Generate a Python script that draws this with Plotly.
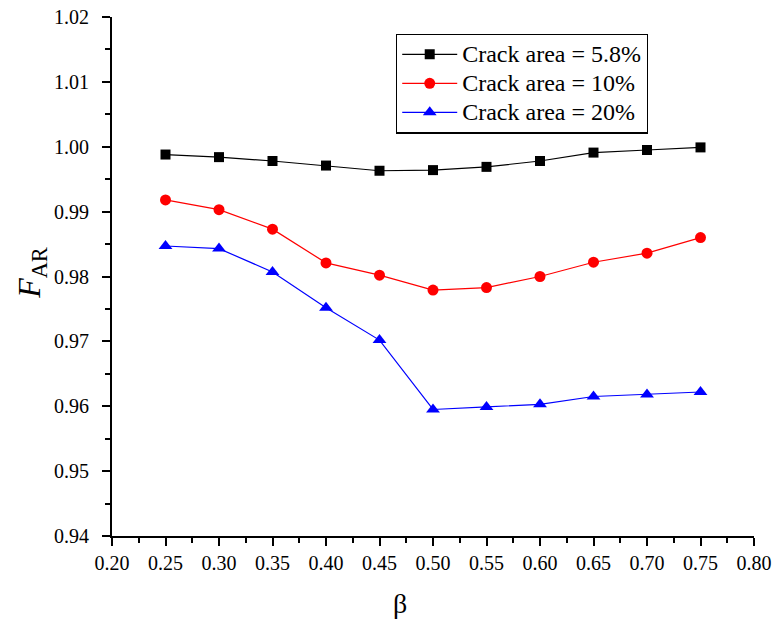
import plotly.graph_objects as go

beta = [0.25, 0.30, 0.35, 0.40, 0.45, 0.50, 0.55, 0.60, 0.65, 0.70, 0.75]
far_5_8 = [0.9988, 0.9984, 0.9978, 0.9971, 0.9963, 0.9964, 0.9969, 0.9978, 0.9991, 0.9995, 0.9999]
far_10 = [0.9918, 0.9903, 0.9873, 0.9821, 0.9802, 0.9779, 0.9783, 0.9800, 0.9822, 0.9836, 0.9860]
far_20 = [0.9847, 0.9843, 0.9807, 0.9752, 0.9702, 0.9595, 0.9599, 0.9603, 0.9615, 0.9618, 0.9622]

x_ticks = [0.20, 0.25, 0.30, 0.35, 0.40, 0.45, 0.50, 0.55, 0.60, 0.65, 0.70, 0.75, 0.80]
y_ticks = [0.94, 0.95, 0.96, 0.97, 0.98, 0.99, 1.00, 1.01, 1.02]

series = [
    ("Crack area = 5.8%", far_5_8, "black", "square", 10),
    ("Crack area = 10%", far_10, "red", "circle", 11),
    ("Crack area = 20%", far_20, "blue", "triangle-up", 12),
]

FONT = "Liberation Serif"

fig = go.Figure()
for name, vals, color, symbol, size in series:
    fig.add_trace(go.Scatter(
        x=beta, y=vals, name=f'<span style="font-size:24px">{name}</span>',
        mode="lines+markers",
        line=dict(color=color, width=1.2),
        marker=dict(symbol=symbol, size=size, color=color),
    ))

axis_common = dict(
    showline=True, linecolor="black", linewidth=2,
    ticks="outside", ticklen=8, tickwidth=1.5, tickcolor="black",
    showgrid=False, zeroline=False, mirror=False, automargin=False,
    tickfont=dict(family=FONT, size=20, color="black"),
    tickmode="array", ticklabeloverflow="allow",
)

fig.update_layout(
    width=774, height=619,
    margin=dict(l=112, r=20, t=17, b=83),
    paper_bgcolor="white", plot_bgcolor="white",
    font=dict(family=FONT, color="black"),
    showlegend=True,
    legend=dict(
        x=0.4424, y=0.968, xanchor="left", yanchor="top",
        bordercolor="black", borderwidth=1.2, bgcolor="white",
        font=dict(family=FONT, size=20, color="black"),
        tracegroupgap=0, itemsizing="trace", itemwidth=55,
    ),
    annotations=[
        dict(text="<i>F</i><sub>AR</sub>", textangle=-90, showarrow=False,
             xref="paper", yref="paper", x=-0.1246, y=0.507,
             xanchor="center", yanchor="middle",
             font=dict(family=FONT, size=32, color="black")),
        dict(text="β", showarrow=False,
             xref="paper", yref="paper", x=0.4486, y=-0.131,
             xanchor="center", yanchor="middle",
             font=dict(family=FONT, size=28, color="black")),
    ],
)

fig.update_xaxes(
    range=[0.20, 0.80], tickvals=x_ticks, ticktext=[f"{v:.2f}" for v in x_ticks],
    minor=dict(ticks="outside", ticklen=5, tickwidth=1.5, tickcolor="black",
               tickmode="array",
               tickvals=[a + 0.025 for a in x_ticks[:-1]]),
    **axis_common,
)
fig.update_yaxes(
    range=[0.94, 1.02], tickvals=y_ticks, ticktext=[f"{v:.2f}" for v in y_ticks],
    ticklabelstandoff=9,
    minor=dict(ticks="outside", ticklen=5, tickwidth=1.5, tickcolor="black",
               tickmode="array",
               tickvals=[a + 0.005 for a in y_ticks[:-1]]),
    **axis_common,
)

fig.write_html("out.html")
